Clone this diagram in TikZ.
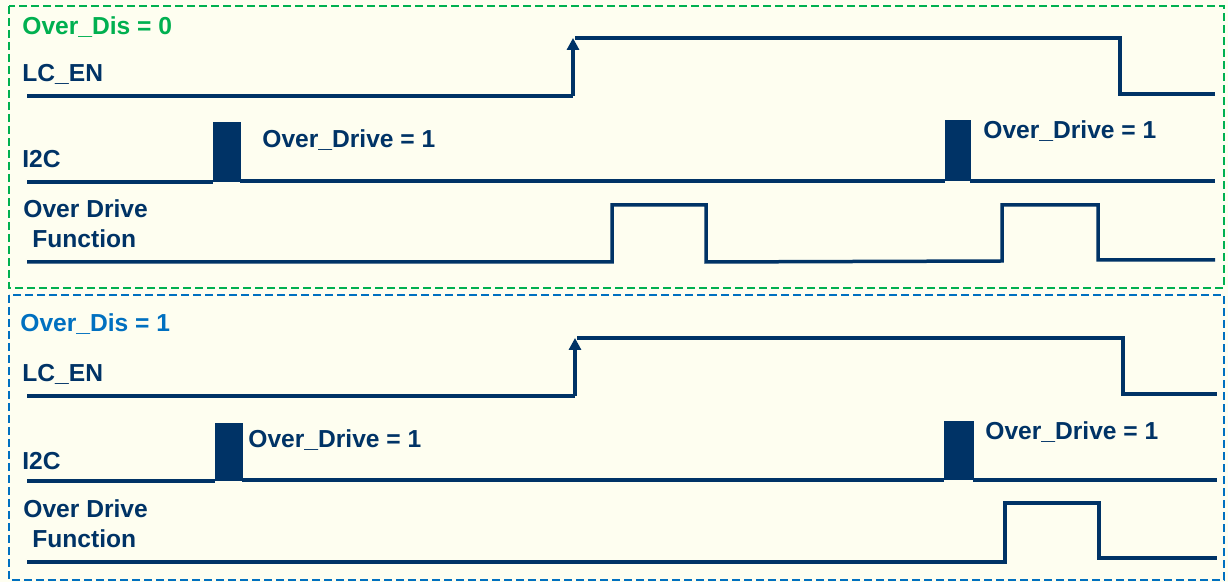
\documentclass[tikz,border=0pt]{standalone}
\usepackage{fontspec}
\setmainfont{Liberation Sans}
\usetikzlibrary{arrows.meta}
\definecolor{bgc}{HTML}{FEFEF0}
\definecolor{navy}{HTML}{003366}
\definecolor{grn}{HTML}{00B050}
\definecolor{blu}{HTML}{0070C0}
\begin{document}
\begin{tikzpicture}[x=0.5pt,y=-0.5pt,
  sig/.style={draw=navy,line width=1.75pt,line join=miter},
  burst/.style={fill=navy,draw=navy,line width=0.5pt},
  lbl/.style={anchor=base west,inner sep=0,text=navy,font=\fontsize{12.3}{14}\selectfont\bfseries},
  title/.style={anchor=base west,inner sep=0,font=\fontsize{12.3}{14}\selectfont\bfseries},
  frame/.style={line width=1.2pt,dash pattern=on 4pt off 2pt},
  up/.style={-{Triangle[length=6pt,width=6pt]}}]
\fill[bgc] (0,0) rectangle (1228,582);
\useasboundingbox (0,0) rectangle (1228,582);
% frames
\draw[frame,grn] (9,6) rectangle (1224,288);
\draw[frame,blu] (9,295) rectangle (1224,580);
% ---------- top panel ----------
\node[title,text=grn] (t1) at (22,35) {Over\_Dis = 0};
\node[lbl] (lc1) at (22,82) {LC\_EN};
\node[lbl] (i1) at (22,168) {I2C};
\node[lbl] (od1) at (23,218) {Over Drive};
\node[lbl] (fn1) at (32,248) {Function};
\draw[sig] (27,96) -- (573,96);
\draw[sig,up] (573,96) -- (573,38);
\draw[sig] (575,38) -- (1120,38) -- (1120,94) -- (1215,94);
\draw[sig] (27,182) -- (213,182);
\fill[burst] (213,123) rectangle (240,182);
\draw[sig] (240,181) -- (945,181);
\fill[burst] (945,121) rectangle (970,181);
\draw[sig] (970,181) -- (1215,181);
\node[lbl] (ov1) at (262,148) {Over\_Drive = 1};
\node[lbl] (ov2) at (983,139) {Over\_Drive = 1};
\draw[sig] (27,262) -- (612,262) -- (612,205) -- (706,205) -- (706,262) -- (1002,261) -- (1002,205) -- (1098,205) -- (1098,260) -- (1215,260);
% ---------- bottom panel ----------
\node[title,text=blu] (t2) at (20,332) {Over\_Dis = 1};
\node[lbl] (lc2) at (22,382) {LC\_EN};
\node[lbl] (i2) at (22,470) {I2C};
\node[lbl] (od2) at (23,518) {Over Drive};
\node[lbl] (fn2) at (32,548) {Function};
\draw[sig] (27,396) -- (575,396);
\draw[sig,up] (575,396) -- (575,338);
\draw[sig] (577,338) -- (1123,338) -- (1123,394) -- (1217,394);
\draw[sig] (27,481) -- (215,481);
\fill[burst] (215,424) rectangle (242,481);
\draw[sig] (242,480) -- (944,480);
\fill[burst] (944,422) rectangle (973,480);
\draw[sig] (973,480) -- (1217,480);
\node[lbl] (ov3) at (248,448) {Over\_Drive = 1};
\node[lbl] (ov4) at (985,440) {Over\_Drive = 1};
\draw[sig] (27,562) -- (1005,562) -- (1005,503) -- (1099,503) -- (1099,558) -- (1217,558);
\end{tikzpicture}
\end{document}
